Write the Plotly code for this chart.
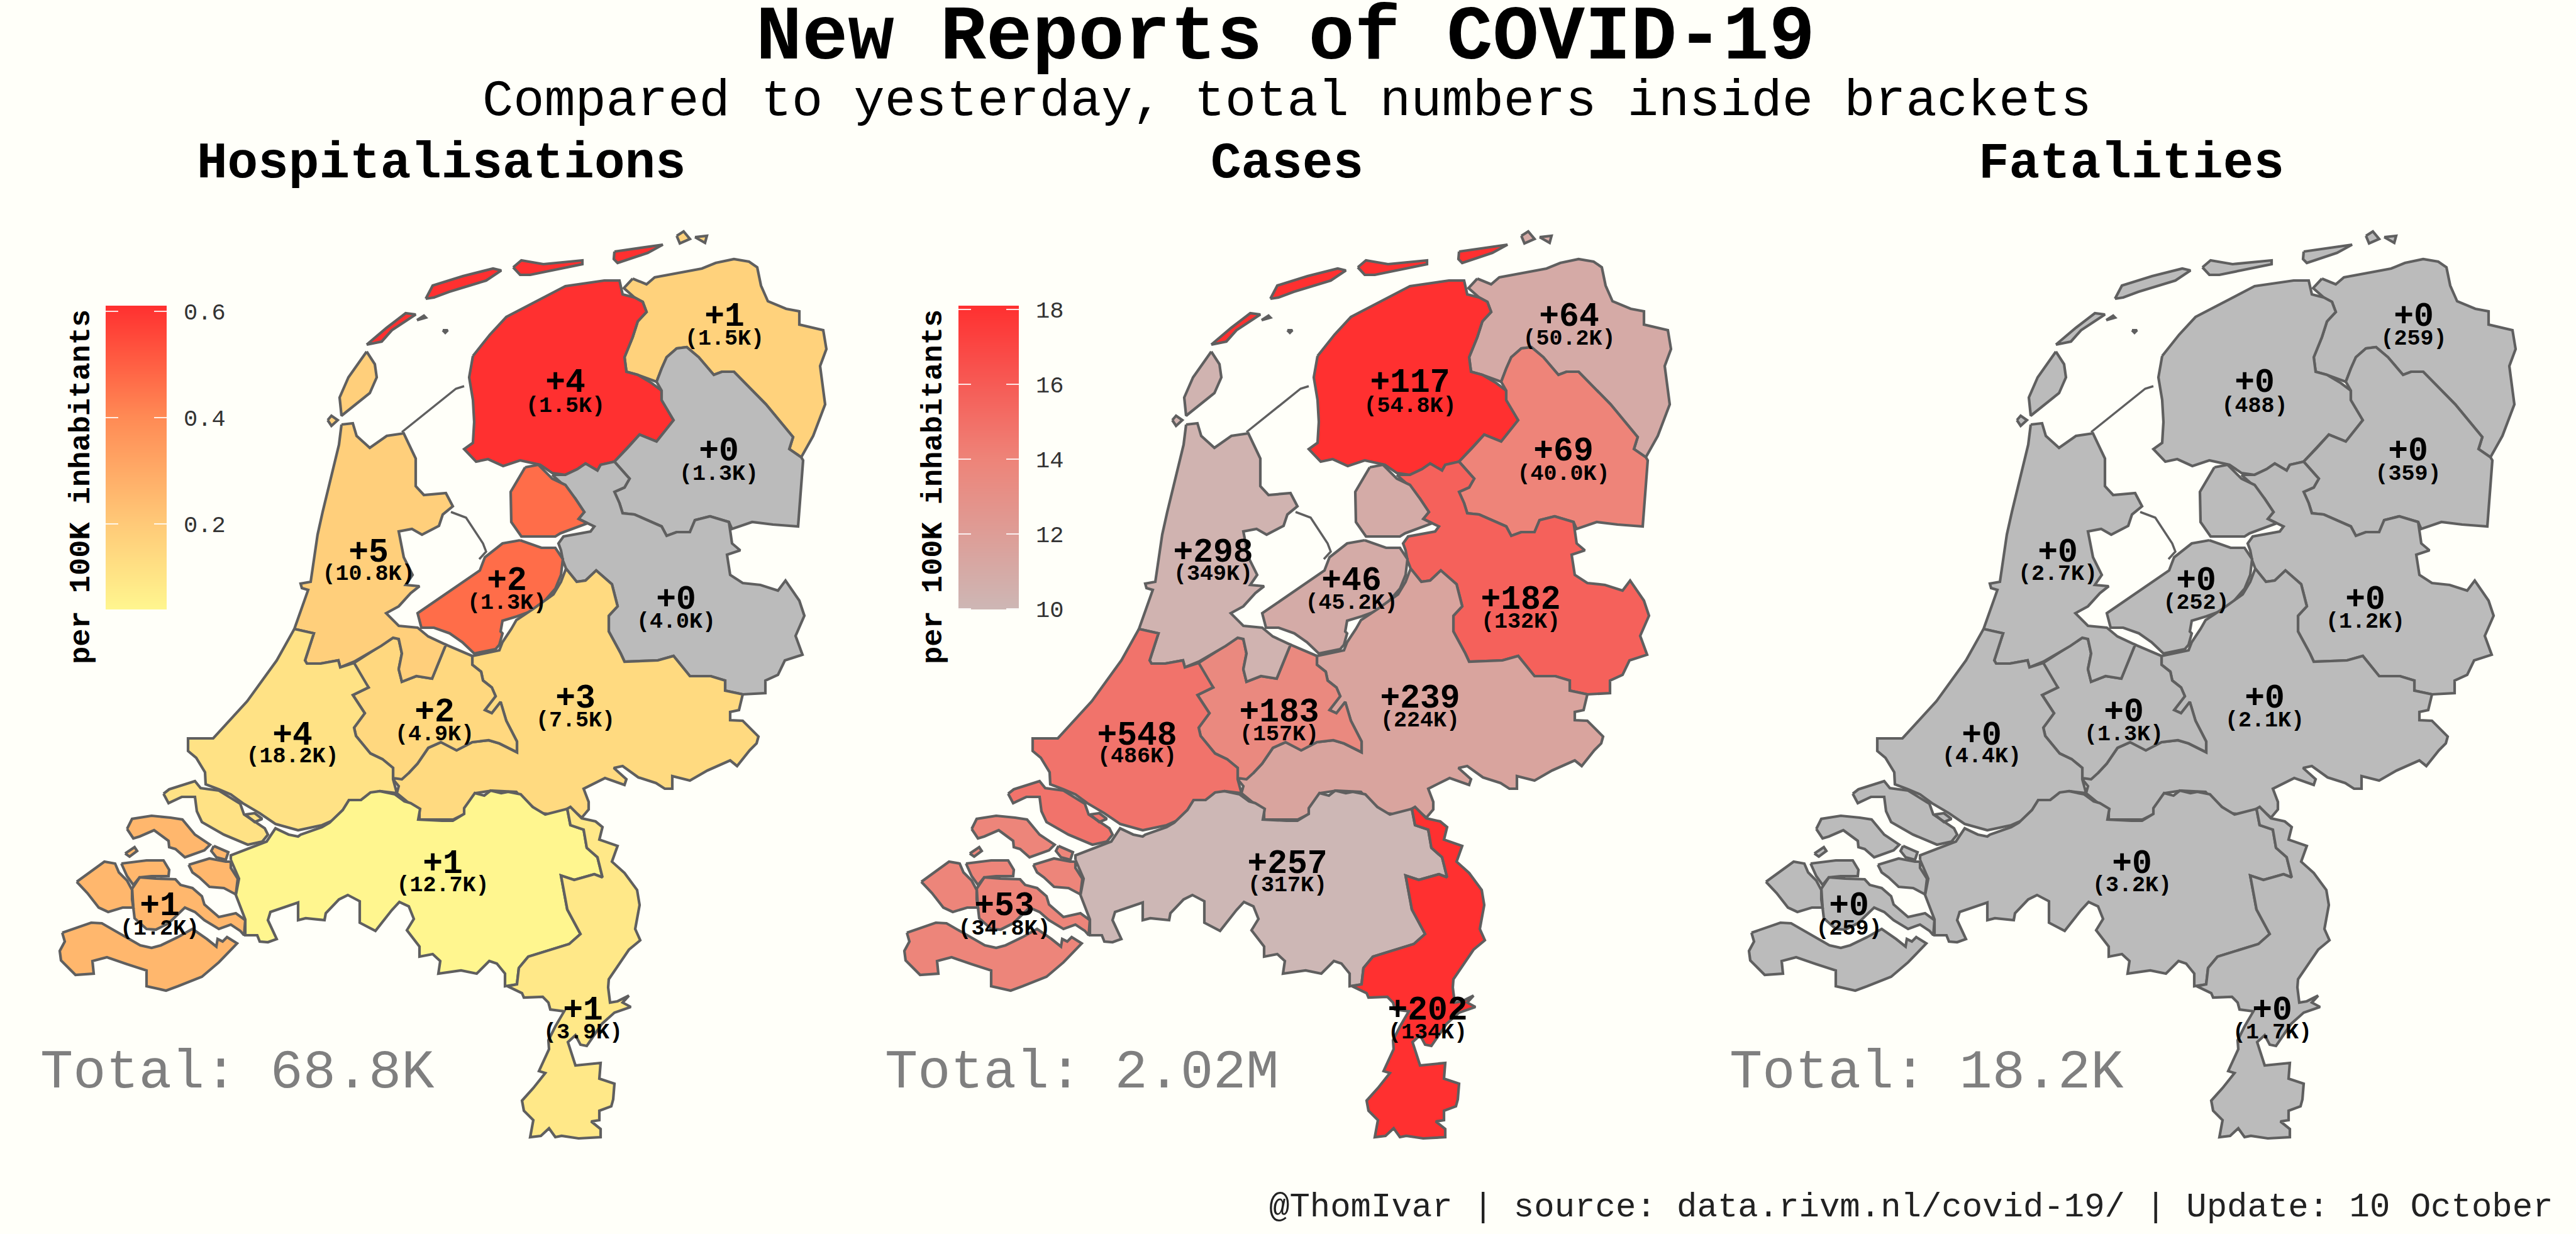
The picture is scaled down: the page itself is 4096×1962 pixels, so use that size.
"""New Reports of COVID-19 - three province maps of the Netherlands."""

import plotly.graph_objects as go
from plotly.colors import sample_colorscale

# ── Design tokens ────────────────────────────────────────────────────────────
BG = "#fffff9"
EDGE = "#5f5f5f"
NA_GREY = "#bbbbbb"
TOTAL_GREY = "#7f7f7f"
MONO = "Liberation Mono, Courier New, monospace"
W, H = 4096, 1962

HOSP_SCALE = [[0, "#fff68f"], [0.28, "#ffca78"], [0.63, "#ff8b55"], [1, "#ff3030"]]
CASES_SCALE = [[0, "#cdb7b5"], [0.5, "#ee8378"], [1, "#ff3030"]]

# ── Province outlines (map units, y runs downward) ───────────────────────────
groningen = [
    [(1006, 443), (1028, 452), (1041, 441), (1079, 434), (1116, 427), (1138, 418), (1167, 412), (1191, 416),
     (1204, 425), (1210, 454), (1221, 479), (1250, 491), (1271, 495), (1271, 516), (1309, 525), (1314, 555),
     (1304, 582), (1312, 643), (1293, 693), (1274, 727), (1255, 714), (1261, 695), (1218, 643), (1167, 591),
     (1148, 591), (1135, 596), (1111, 568), (1092, 552), (1076, 554), (1060, 568), (1052, 586), (1044, 607),
     (1014, 596), (996, 591), (993, 568), (1006, 536), (1014, 511), (1028, 496), (1022, 480), (1009, 473),
     (992, 458)],
    [(1076, 375), (1087, 368), (1097, 380), (1081, 387)],
    [(1105, 377), (1124, 375), (1121, 386)],
]
friesland = [
    [(752, 566), (762, 554), (779, 532), (805, 504), (843, 484), (899, 455), (961, 446), (985, 446), (990, 468),
     (1009, 473), (1022, 480), (1028, 496), (1014, 511), (1006, 536), (993, 568), (996, 591), (1014, 596),
     (1036, 609), (1052, 621), (1052, 636), (1071, 668), (1044, 702), (1017, 691), (998, 712), (977, 734),
     (955, 739), (950, 748), (931, 737), (918, 746), (899, 755), (878, 752), (859, 739), (827, 732), (800, 741),
     (776, 730), (757, 734), (738, 714), (752, 704), (754, 671), (752, 636), (746, 600)],
    [(583, 548), (615, 521), (645, 498), (661, 500), (623, 525), (607, 543)],
    [(663, 509), (674, 502), (677, 505)],
    [(704, 525), (712, 525), (708, 529)],
    [(677, 475), (688, 454), (736, 439), (784, 427), (797, 430), (773, 446), (714, 464), (690, 473)],
    [(816, 425), (829, 414), (864, 420), (926, 414), (926, 420), (875, 430), (843, 437), (827, 437)],
    [(977, 400), (1036, 391), (1054, 389), (1030, 402), (982, 418), (976, 412)],
]
drenthe = [
    [(1044, 607), (1052, 586), (1060, 568), (1076, 554), (1092, 552), (1111, 568), (1135, 596), (1148, 591),
     (1167, 591), (1218, 643), (1261, 695), (1255, 714), (1274, 727), (1277, 732), (1269, 837), (1229, 834),
     (1196, 830), (1164, 841), (1159, 830), (1129, 821), (1105, 827), (1097, 846), (1076, 846), (1060, 852),
     (1052, 837), (1025, 825), (1009, 818), (990, 816), (985, 800), (977, 782), (993, 775), (1001, 761), (977, 734),
     (998, 712), (1017, 691), (1044, 702), (1071, 668), (1052, 636), (1052, 621)],
]
overijssel = [
    [(878, 755), (899, 755), (918, 746), (931, 737), (950, 748), (955, 739), (977, 734), (1001, 761), (993, 775),
     (977, 782), (985, 800), (990, 816), (1009, 818), (1025, 825), (1052, 837), (1060, 852), (1076, 846),
     (1097, 846), (1105, 827), (1129, 821), (1159, 830), (1164, 864), (1177, 875), (1156, 882), (1161, 914),
     (1181, 927), (1209, 930), (1237, 939), (1249, 923), (1271, 955), (1279, 979), (1265, 1011), (1276, 1041),
     (1248, 1050), (1237, 1073), (1217, 1082), (1217, 1102), (1181, 1104), (1153, 1098), (1153, 1082), (1130, 1075),
     (1097, 1075), (1071, 1043), (1046, 1050), (993, 1052), (987, 1039), (968, 1004), (968, 979), (982, 964),
     (973, 929), (948, 907), (931, 923), (917, 925), (900, 904), (895, 891), (892, 875), (888, 864), (896, 853),
     (939, 845), (945, 837), (934, 832), (920, 825), (929, 814), (915, 793), (896, 771)],
]
flevoland = [
    [(835, 743), (856, 739), (878, 761), (899, 771), (915, 793), (929, 814), (920, 825), (934, 832), (891, 848),
     (883, 853), (829, 853), (813, 830), (812, 782)],
    [(827, 859), (861, 871), (883, 871), (895, 889), (892, 914), (883, 936), (855, 968), (822, 980), (799, 987),
     (796, 1004), (799, 1007), (794, 1025), (788, 1032), (754, 1039), (735, 1021), (715, 1007), (690, 998),
     (670, 998), (664, 975), (704, 948), (763, 907), (771, 886), (799, 864)],
]
gelderland = [
    [(900, 904), (917, 925), (931, 923), (948, 907), (973, 929), (982, 964), (968, 979), (968, 1004), (987, 1039),
     (993, 1052), (1046, 1050), (1071, 1043), (1097, 1075), (1130, 1075), (1153, 1082), (1153, 1098), (1181, 1104),
     (1175, 1129), (1161, 1132), (1161, 1145), (1181, 1146), (1206, 1171), (1203, 1182), (1192, 1193), (1172, 1218),
     (1161, 1209), (1125, 1225), (1097, 1241), (1069, 1234), (1069, 1254), (1057, 1254), (1043, 1245), (1015, 1236),
     (990, 1218), (976, 1221), (996, 1239), (993, 1248), (962, 1237), (928, 1254), (936, 1275), (936, 1287),
     (925, 1300), (906, 1284), (883, 1295), (861, 1293), (833, 1273), (821, 1259), (782, 1257), (757, 1261),
     (737, 1295), (721, 1303), (704, 1303), (667, 1303), (667, 1286), (648, 1275), (631, 1261), (634, 1250),
     (625, 1239), (650, 1229), (664, 1214), (681, 1189), (701, 1180), (726, 1193), (751, 1180), (777, 1177),
     (794, 1182), (822, 1196), (822, 1179), (805, 1146), (796, 1116), (782, 1134), (771, 1129), (777, 1121),
     (788, 1107), (782, 1093), (768, 1082), (765, 1068), (751, 1057), (751, 1043), (794, 1034), (799, 1021),
     (813, 1000), (821, 986), (848, 968), (880, 945), (892, 925)],
]
utrecht = [
    [(563, 1054), (606, 1027), (625, 1014), (634, 1016), (639, 1039), (634, 1064), (639, 1084), (662, 1075),
     (687, 1079), (709, 1025), (751, 1043), (751, 1057), (765, 1068), (768, 1082), (782, 1093), (788, 1107),
     (777, 1121), (771, 1129), (782, 1134), (796, 1116), (805, 1146), (822, 1179), (822, 1196), (794, 1182),
     (777, 1177), (751, 1180), (726, 1193), (701, 1180), (681, 1189), (664, 1214), (650, 1229), (639, 1239),
     (625, 1237), (625, 1221), (608, 1207), (589, 1198), (566, 1170), (563, 1157), (580, 1134), (561, 1105),
     (586, 1093), (563, 1061)],
]
noord_holland = [
    [(543, 675), (561, 673), (567, 693), (588, 712), (615, 693), (642, 689), (661, 729), (661, 773), (674, 787),
     (709, 784), (720, 805), (704, 818), (698, 836), (671, 850), (655, 841), (634, 845), (642, 886), (656, 914),
     (645, 930), (667, 932), (653, 943), (634, 964), (614, 975), (634, 995), (664, 998), (681, 1012), (709, 1025),
     (687, 1079), (662, 1075), (639, 1084), (634, 1064), (639, 1039), (634, 1016), (625, 1014), (606, 1027),
     (563, 1052), (541, 1061), (538, 1050), (510, 1055), (488, 1055), (485, 1050), (499, 1007), (468, 1000),
     (490, 938), (480, 935), (478, 928), (494, 925), (505, 850), (513, 814), (527, 754), (539, 707)],
    [(583, 559), (596, 579), (599, 600), (588, 625), (543, 661), (540, 632), (554, 600)],
    [(521, 668), (527, 661), (537, 668), (527, 677)],
]
zuid_holland = [
    [(468, 1000), (499, 1007), (485, 1050), (488, 1055), (510, 1055), (538, 1050), (541, 1061), (563, 1054),
     (586, 1093), (561, 1105), (580, 1134), (563, 1157), (566, 1170), (589, 1198), (608, 1207), (625, 1221),
     (625, 1239), (631, 1261), (604, 1258), (589, 1262), (574, 1272), (555, 1272), (545, 1288), (528, 1305),
     (512, 1312), (474, 1320), (438, 1310), (413, 1293), (386, 1277), (367, 1263), (348, 1255), (327, 1247),
     (326, 1228), (312, 1205), (299, 1194), (299, 1174), (339, 1174), (393, 1115), (440, 1050)],
    [(260, 1262), (269, 1255), (310, 1242), (319, 1253), (348, 1257), (382, 1278), (388, 1295), (421, 1317),
     (426, 1327), (417, 1338), (394, 1343), (371, 1333), (356, 1327), (321, 1307), (313, 1290), (310, 1267),
     (289, 1267), (268, 1277)],
    [(390, 1295), (405, 1293), (417, 1302), (405, 1307)],
]
zeeland = [
    [(202, 1318), (210, 1302), (241, 1297), (271, 1300), (290, 1303), (310, 1327), (334, 1343), (325, 1352),
     (294, 1363), (279, 1350), (269, 1347), (268, 1337), (245, 1320), (222, 1330), (212, 1333)],
    [(340, 1345), (363, 1355), (359, 1367), (344, 1363), (336, 1353)],
    [(193, 1373), (233, 1368), (260, 1368), (269, 1383), (268, 1393), (241, 1393), (222, 1395), (212, 1407),
     (202, 1393)],
    [(122, 1402), (166, 1370), (183, 1373), (189, 1387), (202, 1400), (210, 1415), (210, 1430), (212, 1443),
     (195, 1443), (172, 1450), (157, 1443), (139, 1420)],
    [(210, 1413), (222, 1395), (248, 1397), (279, 1398), (287, 1407), (306, 1412), (321, 1425), (325, 1438),
     (348, 1458), (375, 1452), (390, 1463), (388, 1487), (382, 1480), (367, 1470), (348, 1477), (325, 1463),
     (310, 1450), (294, 1443), (268, 1468), (248, 1478), (233, 1477), (214, 1460), (212, 1443)],
    [(300, 1375), (333, 1365), (359, 1370), (367, 1370), (367, 1380), (378, 1397), (375, 1422), (356, 1412),
     (333, 1410), (317, 1395), (306, 1387)],
    [(99, 1483), (145, 1467), (162, 1468), (195, 1487), (223, 1503), (241, 1507), (256, 1503), (283, 1490),
     (306, 1477), (329, 1493), (344, 1505), (346, 1493), (354, 1497), (361, 1490), (377, 1500), (348, 1530),
     (321, 1553), (283, 1568), (264, 1575), (233, 1568), (233, 1543), (202, 1533), (170, 1522), (147, 1528),
     (149, 1548), (120, 1550), (97, 1527), (95, 1512), (103, 1497)],
    [(199, 1357), (214, 1347), (218, 1353), (206, 1362)],
]
noord_brabant = [
    [(367, 1367), (380, 1397), (375, 1423), (390, 1462), (390, 1487), (409, 1487), (413, 1497), (426, 1498),
     (440, 1493), (426, 1463), (430, 1450), (474, 1435), (474, 1463), (486, 1460), (516, 1463), (518, 1452),
     (539, 1430), (553, 1423), (572, 1433), (572, 1467), (597, 1480), (623, 1447), (635, 1434), (650, 1441),
     (658, 1461), (647, 1479), (667, 1505), (667, 1521), (688, 1517), (700, 1528), (697, 1548), (733, 1543),
     (758, 1548), (778, 1528), (790, 1532), (803, 1548), (803, 1568), (822, 1565), (825, 1539), (840, 1521),
     (905, 1501), (923, 1485), (902, 1446), (892, 1392), (913, 1399), (945, 1390), (958, 1395), (950, 1363),
     (933, 1348), (928, 1319), (907, 1312), (902, 1286), (867, 1295), (847, 1283), (828, 1263), (808, 1259),
     (797, 1261), (780, 1257), (770, 1265), (755, 1261), (738, 1285), (738, 1294), (720, 1305), (703, 1305),
     (665, 1303), (668, 1286), (653, 1277), (643, 1274), (628, 1263), (604, 1258), (589, 1260), (574, 1272),
     (555, 1272), (545, 1288), (524, 1308), (512, 1315), (478, 1327), (474, 1330), (459, 1327), (438, 1317),
     (424, 1338), (382, 1355), (367, 1360)],
]
limburg = [
    [(902, 1286), (907, 1283), (925, 1301), (947, 1306), (958, 1315), (953, 1335), (982, 1345), (973, 1370),
     (993, 1388), (1013, 1415), (1017, 1439), (1010, 1477), (1018, 1495), (1000, 1510), (968, 1557), (967, 1570),
     (970, 1594), (982, 1592), (1000, 1583), (990, 1594), (1003, 1601), (977, 1610), (957, 1628), (933, 1663),
     (923, 1661), (915, 1646), (903, 1657), (915, 1694), (955, 1690), (953, 1715), (977, 1723), (975, 1748),
     (972, 1759), (953, 1766), (953, 1781), (940, 1783), (955, 1795), (955, 1808), (920, 1810), (893, 1806),
     (883, 1808), (873, 1794), (860, 1806), (843, 1808), (848, 1781), (833, 1766), (830, 1750), (848, 1730),
     (867, 1706), (857, 1703), (873, 1668), (872, 1654), (883, 1632), (897, 1608), (875, 1605), (872, 1594),
     (863, 1585), (833, 1586), (830, 1579), (807, 1568), (822, 1565), (825, 1539), (840, 1521), (905, 1501),
     (923, 1485), (902, 1446), (892, 1392), (913, 1399), (945, 1390), (958, 1395), (950, 1363), (933, 1348),
     (928, 1319), (907, 1312)],
]
dikes = [
    [(639, 687), (725, 618), (738, 614)],
    [(717, 814), (741, 823), (768, 864), (773, 877), (762, 889)],
]

# ── Data ─────────────────────────────────────────────────────────────────────
provinces = [groningen, friesland, drenthe, overijssel, flevoland, gelderland,
             utrecht, noord_holland, zuid_holland, zeeland, noord_brabant, limburg]

# order above; None = no new reports (grey)
hosp_per_100k = [0.17, 0.61, None, None, 0.47, 0.14, 0.15, 0.18, 0.11, 0.26, 0.039, 0.09]
cases_per_100k = [11.0, 18.1, 14.0, 15.7, 10.9, 11.5, 13.6, 10.3, 14.8, 13.9, 10.0, 18.1]
deaths_per_100k = [None] * 12

hosp_new = ["+1", "+4", "+0", "+0", "+2", "+3", "+2", "+5", "+4", "+1", "+1", "+1"]
hosp_total = ["(1.5K)", "(1.5K)", "(1.3K)", "(4.0K)", "(1.3K)", "(7.5K)", "(4.9K)", "(10.8K)", "(18.2K)",
              "(1.2K)", "(12.7K)", "(3.9K)"]
cases_new = ["+64", "+117", "+69", "+182", "+46", "+239", "+183", "+298", "+548", "+53", "+257", "+202"]
cases_total = ["(50.2K)", "(54.8K)", "(40.0K)", "(132K)", "(45.2K)", "(224K)", "(157K)", "(349K)", "(486K)",
               "(34.8K)", "(317K)", "(134K)"]
deaths_new = ["+0"] * 12
deaths_total = ["(259)", "(488)", "(359)", "(1.2K)", "(252)", "(2.1K)", "(1.3K)", "(2.7K)", "(4.4K)",
                "(259)", "(3.2K)", "(1.7K)"]

label_x = [1152, 899, 1143, 1075, 806, 915, 691, 586, 465, 254, 704, 927]
new_y = [505, 610, 719, 955, 925, 1112, 1134, 880, 1171, 1442, 1375, 1608]
total_y = [539, 646, 754, 989, 959, 1146, 1168, 913, 1203, 1477, 1408, 1642]

panel_names = ["Hospitalisations", "Cases", "Fatalities"]
panel_totals = ["Total: 68.8K", "Total: 2.02M", "Total: 18.2K"]
panel_title_x = [702, 2046, 3389]

hosp_range = [0.039, 0.611]
hosp_ticks = [0.2, 0.4, 0.6]
cases_range = [9.98, 18.1]
cases_ticks = [10, 12, 14, 16, 18]


def rings_xy(rings):
    xs, ys = [], []
    for ring in rings:
        xs += [p[0] for p in ring] + [ring[0][0], None]
        ys += [p[1] for p in ring] + [ring[0][1], None]
    return xs, ys


def fill_color(value, scale, vmin, vmax):
    if value is None:
        return NA_GREY
    t = min(max((value - vmin) / (vmax - vmin), 0), 1)
    return sample_colorscale(scale, [t], colortype="rgb")[0]


def note(px, py, text, size, color="black", xanchor="center", angle=0):
    """Text placed by its pixel position on the page."""
    fig.add_annotation(x=px / W, y=1 - py / H, xref="paper", yref="paper", showarrow=False,
                       xanchor=xanchor, yanchor="middle", textangle=angle, text=text,
                       font=dict(family=MONO, size=size, color=color))


fig = go.Figure()

panels = [
    dict(values=hosp_per_100k, scale=HOSP_SCALE, rng=hosp_range, new=hosp_new, total=hosp_total, x0=0, w=1343),
    dict(values=cases_per_100k, scale=CASES_SCALE, rng=cases_range, new=cases_new, total=cases_total, x0=1343, w=1343),
    dict(values=deaths_per_100k, scale=None, rng=[0, 1], new=deaths_new, total=deaths_total, x0=2686, w=1410),
]

for i, p in enumerate(panels):
    ax = "" if i == 0 else str(i + 1)
    xa, ya = "x" + ax, "y" + ax

    for rings, value in zip(provinces, p["values"]):
        xs, ys = rings_xy(rings)
        fig.add_trace(go.Scatter(
            x=xs, y=ys, xaxis=xa, yaxis=ya, mode="lines", fill="toself",
            fillcolor=fill_color(value, p["scale"], *p["rng"]),
            line=dict(color=EDGE, width=4.2), hoverinfo="skip", showlegend=False,
        ))

    dike_x = [v for d in dikes for v in [q[0] for q in d] + [None]]
    dike_y = [v for d in dikes for v in [q[1] for q in d] + [None]]
    fig.add_trace(go.Scatter(x=dike_x, y=dike_y, xaxis=xa, yaxis=ya, mode="lines",
                             line=dict(color=EDGE, width=3.5), hoverinfo="skip", showlegend=False))

    fig.add_trace(go.Scatter(
        x=label_x, y=new_y, xaxis=xa, yaxis=ya, mode="text",
        text=[f"<b>{t}</b>" for t in p["new"]],
        textfont=dict(family=MONO, size=53, color="black"), hoverinfo="skip", showlegend=False,
    ))
    fig.add_trace(go.Scatter(
        x=label_x, y=total_y, xaxis=xa, yaxis=ya, mode="text",
        text=[f"<b>{t}</b>" for t in p["total"]],
        textfont=dict(family=MONO, size=35, color="black"), hoverinfo="skip", showlegend=False,
    ))

    fig.update_layout({
        f"xaxis{ax}": dict(domain=[p["x0"] / W, (p["x0"] + p["w"]) / W], range=[0, p["w"]], visible=False),
        f"yaxis{ax}": dict(domain=[0, 1], range=[H, 0], visible=False, anchor=xa),
    })

    note(panel_title_x[i], 261, f"<b>{panel_names[i]}</b>", 81)
    note(p["x0"] + 62, 1706, panel_totals[i], 87, TOTAL_GREY, xanchor="left")

# ── Colour bars ──────────────────────────────────────────────────────────────
bars = [
    dict(n=4, rng=hosp_range, ticks=hosp_ticks, fmt=".1f", scale=HOSP_SCALE, left=168, right=265, title_x=129),
    dict(n=5, rng=cases_range, ticks=cases_ticks, fmt="d", scale=CASES_SCALE, left=1524, right=1620, title_x=1484),
]
for b in bars:
    lo, hi = b["rng"]
    fig.add_trace(go.Heatmap(
        x=[0, 1], y=[lo, hi], z=[[lo, lo], [hi, hi]], zmin=lo, zmax=hi, zsmooth="best",
        colorscale=b["scale"], showscale=False, hoverinfo="skip",
        xaxis=f"x{b['n']}", yaxis=f"y{b['n']}",
    ))
    fig.update_layout({
        f"xaxis{b['n']}": dict(domain=[b["left"] / W, b["right"] / W], range=[0, 1], visible=False,
                               anchor=f"y{b['n']}"),
        f"yaxis{b['n']}": dict(
            domain=[1 - 969 / H, 1 - 486 / H], range=[lo, hi], anchor=f"x{b['n']}", side="right",
            tickmode="array", tickvals=b["ticks"], ticktext=[format(v, b["fmt"]) for v in b["ticks"]],
            ticks="inside", ticklen=20, tickwidth=2, tickcolor="rgba(255,255,255,0.85)", mirror="ticks",
            showline=False, showgrid=False, zeroline=False, ticklabelstandoff=26,
            tickfont=dict(family=MONO, size=37, color="#333333"),
        ),
    })
    note(b["title_x"], 774, "<b>per 100K inhabitants</b>", 47, angle=-90)

# ── Titles ───────────────────────────────────────────────────────────────────
note(2046, 161, "Compared to yesterday, total numbers inside brackets", 82)
note(4062, 1919, "@ThomIvar | source: data.rivm.nl/covid-19/ | Update: 10 October", 54, "#222222", xanchor="right")

fig.update_layout(
    title=dict(text="<b>New Reports of COVID-19</b>", x=2044 / W, xanchor="center",
               y=1 - 50 / H, yanchor="middle", font=dict(family=MONO, size=122, color="black")),
    width=W, height=H,
    paper_bgcolor=BG, plot_bgcolor="rgba(0,0,0,0)",
    margin=dict(l=0, r=0, t=0, b=0, autoexpand=False),
    showlegend=False,
)

fig.write_html("out.html", config={"displayModeBar": False},
               post_script="document.body.style.margin = '0';")
